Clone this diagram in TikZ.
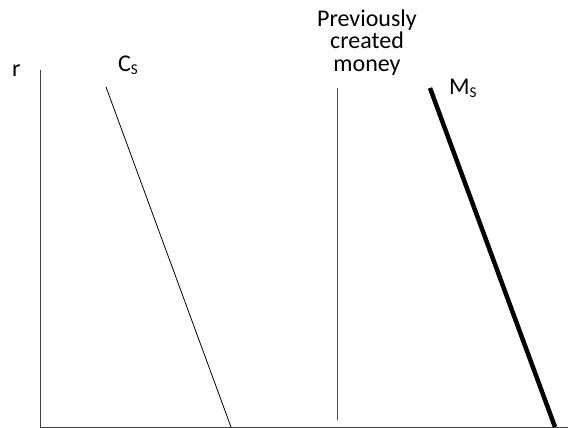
\documentclass[tikz,border=0pt]{standalone}
\usepackage{fontspec}
\setmainfont{Carlito}
\newcommand{\subS}{{\fontsize{15}{15}\selectfont\raisebox{-3pt}{S}}}
\begin{document}
\begin{tikzpicture}[x=1pt,y=-1pt,
  lbl/.style={font=\fontsize{24}{23}\selectfont, inner sep=0pt},
  thin line/.style={line width=0.8pt, black},
  thick line/.style={line width=4.5pt, black}]
\useasboundingbox (0,0) rectangle (568,428);
\coordinate (yt) at (40,70);
\coordinate (o) at (40,427);
\coordinate (xe) at (568,427);
\draw[thin line, draw=black!75] (yt) -- (o) -- (xe);
\coordinate (cs1) at (106,87);
\coordinate (cs2) at (231,427);
\draw[thin line] (cs1) -- (cs2);
\coordinate (pm1) at (337,88);
\coordinate (pm2) at (337,420);
\draw[thin line, draw=black!70] (pm1) -- (pm2);
\coordinate (ms1) at (430,88);
\coordinate (ms2) at (555,427);
\draw[thick line] (ms1) -- (ms2);
\node[lbl, anchor=base west] (r) at (12,77) {r};
\node[lbl, anchor=base west] (cs) at (118,72) {C\subS};
\node[lbl, align=center, anchor=base] (pm) at (367,72) {Previously\\created\\money};
\node[lbl, anchor=base west] (ms) at (449,95) {M\subS};
\end{tikzpicture}
\end{document}
